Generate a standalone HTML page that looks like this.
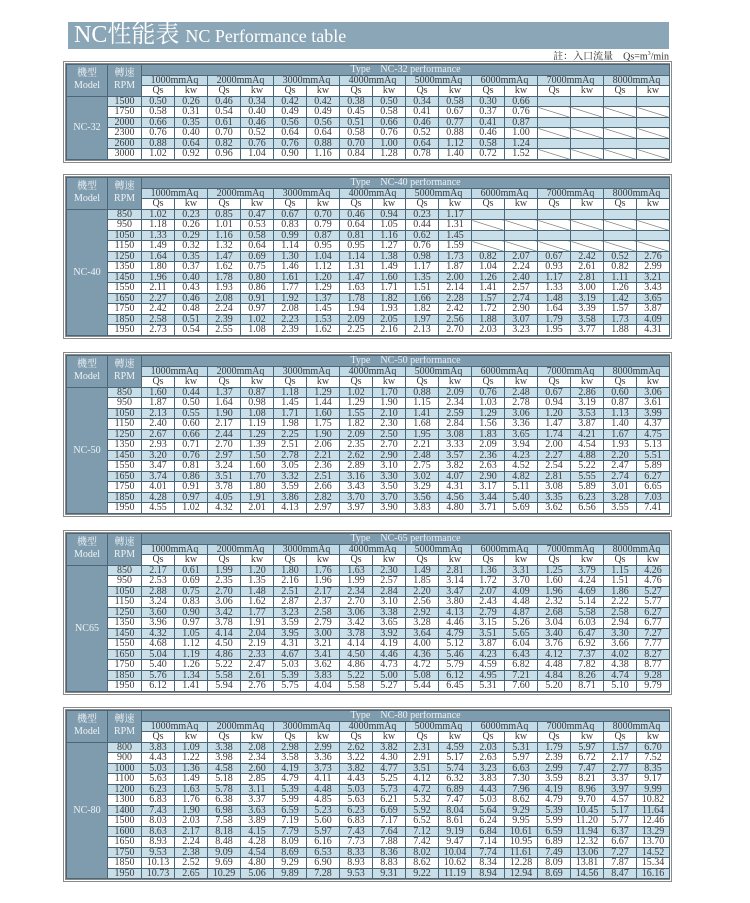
<!DOCTYPE html>
<html><head><meta charset="utf-8">
<style>
body{margin:0;background:#fff;width:750px;height:903px;position:relative;overflow:hidden;font-family:"Liberation Serif","Noto Serif CJK SC",serif}
.hdr{position:absolute;left:68px;top:22px;width:601px;height:27px;background:#8ba7b7;color:#fff;white-space:nowrap}
.hdr .a{position:absolute;left:6px;top:0px;font:24px/27px "Liberation Serif","Noto Serif CJK SC",serif}
.hdr .b{font-size:18px}
.note{position:absolute;right:81px;top:49px;font:10px/11px "Liberation Serif","Noto Serif CJK SC",serif;color:#333}
.t{position:absolute;left:63px;border:3px double #8a8a8a;width:603px}
table{border-collapse:collapse;table-layout:fixed;width:603px}
td{border:1px solid #4b6677;padding:0;font:10px/9px "Liberation Serif","Noto Serif CJK SC",serif;text-align:center;overflow:hidden;white-space:nowrap;color:#3a3a3a}
tr{height:10.5px}
.d{background:#7f9cae;color:#eef3f6}
.p td{background:#c3dbe6}
.b td{background:#c8dfe9}
.b td.d,.p td.d{background:#7f9cae}
.x{background-image:linear-gradient(to top right,transparent calc(50% - 0.6px),#666 50%,transparent calc(50% + 0.6px))}
.m{line-height:12px}
</style></head><body>
<div class="hdr"><span class="a">NC性能表 <span class="b">NC Performance table</span></span></div>
<div class="note">註：入口流量　Qs=m<sup style="font-size:6px">3</sup>/min</div>

<div class="t" style="top:61px"><table>
<colgroup><col style="width:41px"><col style="width:34px"><col span="16" style="width:33px"></colgroup>
<tr><td class="d m" rowspan="3">機型<br>Model<td class="d m" rowspan="3">轉速<br>RPM<td class="d" colspan="16">Type　NC-32 performance
<tr class="p"><td colspan="2">1000mmAq<td colspan="2">2000mmAq<td colspan="2">3000mmAq<td colspan="2">4000mmAq<td colspan="2">5000mmAq<td colspan="2">6000mmAq<td colspan="2">7000mmAq<td colspan="2">8000mmAq
<tr><td>Qs<td>kw<td>Qs<td>kw<td>Qs<td>kw<td>Qs<td>kw<td>Qs<td>kw<td>Qs<td>kw<td>Qs<td>kw<td>Qs<td>kw
<tr class="b"><td class="d" rowspan="6">NC-32<td>1500<td>0.50<td>0.26<td>0.46<td>0.34<td>0.42<td>0.42<td>0.38<td>0.50<td>0.34<td>0.58<td>0.30<td>0.66<td class="x"><td class="x"><td class="x"><td class="x">
<tr><td>1750<td>0.58<td>0.31<td>0.54<td>0.40<td>0.49<td>0.49<td>0.45<td>0.58<td>0.41<td>0.67<td>0.37<td>0.76<td class="x"><td class="x"><td class="x"><td class="x">
<tr class="b"><td>2000<td>0.66<td>0.35<td>0.61<td>0.46<td>0.56<td>0.56<td>0.51<td>0.66<td>0.46<td>0.77<td>0.41<td>0.87<td class="x"><td class="x"><td class="x"><td class="x">
<tr><td>2300<td>0.76<td>0.40<td>0.70<td>0.52<td>0.64<td>0.64<td>0.58<td>0.76<td>0.52<td>0.88<td>0.46<td>1.00<td class="x"><td class="x"><td class="x"><td class="x">
<tr class="b"><td>2600<td>0.88<td>0.64<td>0.82<td>0.76<td>0.76<td>0.88<td>0.70<td>1.00<td>0.64<td>1.12<td>0.58<td>1.24<td class="x"><td class="x"><td class="x"><td class="x">
<tr><td>3000<td>1.02<td>0.92<td>0.96<td>1.04<td>0.90<td>1.16<td>0.84<td>1.28<td>0.78<td>1.40<td>0.72<td>1.52<td class="x"><td class="x"><td class="x"><td class="x">
</table></div>

<div class="t" style="top:174px"><table>
<colgroup><col style="width:41px"><col style="width:34px"><col span="16" style="width:33px"></colgroup>
<tr><td class="d m" rowspan="3">機型<br>Model<td class="d m" rowspan="3">轉速<br>RPM<td class="d" colspan="16">Type　NC-40 performance
<tr class="p"><td colspan="2">1000mmAq<td colspan="2">2000mmAq<td colspan="2">3000mmAq<td colspan="2">4000mmAq<td colspan="2">5000mmAq<td colspan="2">6000mmAq<td colspan="2">7000mmAq<td colspan="2">8000mmAq
<tr><td>Qs<td>kw<td>Qs<td>kw<td>Qs<td>kw<td>Qs<td>kw<td>Qs<td>kw<td>Qs<td>kw<td>Qs<td>kw<td>Qs<td>kw
<tr class="b"><td class="d" rowspan="12">NC-40<td>850<td>1.02<td>0.23<td>0.85<td>0.47<td>0.67<td>0.70<td>0.46<td>0.94<td>0.23<td>1.17<td class="x"><td class="x"><td class="x"><td class="x"><td class="x"><td class="x">
<tr><td>950<td>1.18<td>0.26<td>1.01<td>0.53<td>0.83<td>0.79<td>0.64<td>1.05<td>0.44<td>1.31<td class="x"><td class="x"><td class="x"><td class="x"><td class="x"><td class="x">
<tr class="b"><td>1050<td>1.33<td>0.29<td>1.16<td>0.58<td>0.99<td>0.87<td>0.81<td>1.16<td>0.62<td>1.45<td class="x"><td class="x"><td class="x"><td class="x"><td class="x"><td class="x">
<tr><td>1150<td>1.49<td>0.32<td>1.32<td>0.64<td>1.14<td>0.95<td>0.95<td>1.27<td>0.76<td>1.59<td class="x"><td class="x"><td class="x"><td class="x"><td class="x"><td class="x">
<tr class="b"><td>1250<td>1.64<td>0.35<td>1.47<td>0.69<td>1.30<td>1.04<td>1.14<td>1.38<td>0.98<td>1.73<td>0.82<td>2.07<td>0.67<td>2.42<td>0.52<td>2.76
<tr><td>1350<td>1.80<td>0.37<td>1.62<td>0.75<td>1.46<td>1.12<td>1.31<td>1.49<td>1.17<td>1.87<td>1.04<td>2.24<td>0.93<td>2.61<td>0.82<td>2.99
<tr class="b"><td>1450<td>1.96<td>0.40<td>1.78<td>0.80<td>1.61<td>1.20<td>1.47<td>1.60<td>1.35<td>2.00<td>1.26<td>2.40<td>1.17<td>2.81<td>1.11<td>3.21
<tr><td>1550<td>2.11<td>0.43<td>1.93<td>0.86<td>1.77<td>1.29<td>1.63<td>1.71<td>1.51<td>2.14<td>1.41<td>2.57<td>1.33<td>3.00<td>1.26<td>3.43
<tr class="b"><td>1650<td>2.27<td>0.46<td>2.08<td>0.91<td>1.92<td>1.37<td>1.78<td>1.82<td>1.66<td>2.28<td>1.57<td>2.74<td>1.48<td>3.19<td>1.42<td>3.65
<tr><td>1750<td>2.42<td>0.48<td>2.24<td>0.97<td>2.08<td>1.45<td>1.94<td>1.93<td>1.82<td>2.42<td>1.72<td>2.90<td>1.64<td>3.39<td>1.57<td>3.87
<tr class="b"><td>1850<td>2.58<td>0.51<td>2.39<td>1.02<td>2.23<td>1.53<td>2.09<td>2.05<td>1.97<td>2.56<td>1.88<td>3.07<td>1.79<td>3.58<td>1.73<td>4.09
<tr><td>1950<td>2.73<td>0.54<td>2.55<td>1.08<td>2.39<td>1.62<td>2.25<td>2.16<td>2.13<td>2.70<td>2.03<td>3.23<td>1.95<td>3.77<td>1.88<td>4.31
</table></div>

<div class="t" style="top:352px"><table>
<colgroup><col style="width:41px"><col style="width:34px"><col span="16" style="width:33px"></colgroup>
<tr><td class="d m" rowspan="3">機型<br>Model<td class="d m" rowspan="3">轉速<br>RPM<td class="d" colspan="16">Type　NC-50 performance
<tr class="p"><td colspan="2">1000mmAq<td colspan="2">2000mmAq<td colspan="2">3000mmAq<td colspan="2">4000mmAq<td colspan="2">5000mmAq<td colspan="2">6000mmAq<td colspan="2">7000mmAq<td colspan="2">8000mmAq
<tr><td>Qs<td>kw<td>Qs<td>kw<td>Qs<td>kw<td>Qs<td>kw<td>Qs<td>kw<td>Qs<td>kw<td>Qs<td>kw<td>Qs<td>kw
<tr class="b"><td class="d" rowspan="12">NC-50<td>850<td>1.60<td>0.44<td>1.37<td>0.87<td>1.18<td>1.29<td>1.02<td>1.70<td>0.88<td>2.09<td>0.76<td>2.48<td>0.67<td>2.86<td>0.60<td>3.06
<tr><td>950<td>1.87<td>0.50<td>1.64<td>0.98<td>1.45<td>1.44<td>1.29<td>1.90<td>1.15<td>2.34<td>1.03<td>2.78<td>0.94<td>3.19<td>0.87<td>3.61
<tr class="b"><td>1050<td>2.13<td>0.55<td>1.90<td>1.08<td>1.71<td>1.60<td>1.55<td>2.10<td>1.41<td>2.59<td>1.29<td>3.06<td>1.20<td>3.53<td>1.13<td>3.99
<tr><td>1150<td>2.40<td>0.60<td>2.17<td>1.19<td>1.98<td>1.75<td>1.82<td>2.30<td>1.68<td>2.84<td>1.56<td>3.36<td>1.47<td>3.87<td>1.40<td>4.37
<tr class="b"><td>1250<td>2.67<td>0.66<td>2.44<td>1.29<td>2.25<td>1.90<td>2.09<td>2.50<td>1.95<td>3.08<td>1.83<td>3.65<td>1.74<td>4.21<td>1.67<td>4.75
<tr><td>1350<td>2.93<td>0.71<td>2.70<td>1.39<td>2.51<td>2.06<td>2.35<td>2.70<td>2.21<td>3.33<td>2.09<td>3.94<td>2.00<td>4.54<td>1.93<td>5.13
<tr class="b"><td>1450<td>3.20<td>0.76<td>2.97<td>1.50<td>2.78<td>2.21<td>2.62<td>2.90<td>2.48<td>3.57<td>2.36<td>4.23<td>2.27<td>4.88<td>2.20<td>5.51
<tr><td>1550<td>3.47<td>0.81<td>3.24<td>1.60<td>3.05<td>2.36<td>2.89<td>3.10<td>2.75<td>3.82<td>2.63<td>4.52<td>2.54<td>5.22<td>2.47<td>5.89
<tr class="b"><td>1650<td>3.74<td>0.86<td>3.51<td>1.70<td>3.32<td>2.51<td>3.16<td>3.30<td>3.02<td>4.07<td>2.90<td>4.82<td>2.81<td>5.55<td>2.74<td>6.27
<tr><td>1750<td>4.01<td>0.91<td>3.78<td>1.80<td>3.59<td>2.66<td>3.43<td>3.50<td>3.29<td>4.31<td>3.17<td>5.11<td>3.08<td>5.89<td>3.01<td>6.65
<tr class="b"><td>1850<td>4.28<td>0.97<td>4.05<td>1.91<td>3.86<td>2.82<td>3.70<td>3.70<td>3.56<td>4.56<td>3.44<td>5.40<td>3.35<td>6.23<td>3.28<td>7.03
<tr><td>1950<td>4.55<td>1.02<td>4.32<td>2.01<td>4.13<td>2.97<td>3.97<td>3.90<td>3.83<td>4.80<td>3.71<td>5.69<td>3.62<td>6.56<td>3.55<td>7.41
</table></div>

<div class="t" style="top:530px"><table>
<colgroup><col style="width:41px"><col style="width:34px"><col span="16" style="width:33px"></colgroup>
<tr><td class="d m" rowspan="3">機型<br>Model<td class="d m" rowspan="3">轉速<br>RPM<td class="d" colspan="16">Type　NC-65 performance
<tr class="p"><td colspan="2">1000mmAq<td colspan="2">2000mmAq<td colspan="2">3000mmAq<td colspan="2">4000mmAq<td colspan="2">5000mmAq<td colspan="2">6000mmAq<td colspan="2">7000mmAq<td colspan="2">8000mmAq
<tr><td>Qs<td>kw<td>Qs<td>kw<td>Qs<td>kw<td>Qs<td>kw<td>Qs<td>kw<td>Qs<td>kw<td>Qs<td>kw<td>Qs<td>kw
<tr class="b"><td class="d" rowspan="12">NC65<td>850<td>2.17<td>0.61<td>1.99<td>1.20<td>1.80<td>1.76<td>1.63<td>2.30<td>1.49<td>2.81<td>1.36<td>3.31<td>1.25<td>3.79<td>1.15<td>4.26
<tr><td>950<td>2.53<td>0.69<td>2.35<td>1.35<td>2.16<td>1.96<td>1.99<td>2.57<td>1.85<td>3.14<td>1.72<td>3.70<td>1.60<td>4.24<td>1.51<td>4.76
<tr class="b"><td>1050<td>2.88<td>0.75<td>2.70<td>1.48<td>2.51<td>2.17<td>2.34<td>2.84<td>2.20<td>3.47<td>2.07<td>4.09<td>1.96<td>4.69<td>1.86<td>5.27
<tr><td>1150<td>3.24<td>0.83<td>3.06<td>1.62<td>2.87<td>2.37<td>2.70<td>3.10<td>2.56<td>3.80<td>2.43<td>4.48<td>2.32<td>5.14<td>2.22<td>5.77
<tr class="b"><td>1250<td>3.60<td>0.90<td>3.42<td>1.77<td>3.23<td>2.58<td>3.06<td>3.38<td>2.92<td>4.13<td>2.79<td>4.87<td>2.68<td>5.58<td>2.58<td>6.27
<tr><td>1350<td>3.96<td>0.97<td>3.78<td>1.91<td>3.59<td>2.79<td>3.42<td>3.65<td>3.28<td>4.46<td>3.15<td>5.26<td>3.04<td>6.03<td>2.94<td>6.77
<tr class="b"><td>1450<td>4.32<td>1.05<td>4.14<td>2.04<td>3.95<td>3.00<td>3.78<td>3.92<td>3.64<td>4.79<td>3.51<td>5.65<td>3.40<td>6.47<td>3.30<td>7.27
<tr><td>1550<td>4.68<td>1.12<td>4.50<td>2.19<td>4.31<td>3.21<td>4.14<td>4.19<td>4.00<td>5.12<td>3.87<td>6.04<td>3.76<td>6.92<td>3.66<td>7.77
<tr class="b"><td>1650<td>5.04<td>1.19<td>4.86<td>2.33<td>4.67<td>3.41<td>4.50<td>4.46<td>4.36<td>5.46<td>4.23<td>6.43<td>4.12<td>7.37<td>4.02<td>8.27
<tr><td>1750<td>5.40<td>1.26<td>5.22<td>2.47<td>5.03<td>3.62<td>4.86<td>4.73<td>4.72<td>5.79<td>4.59<td>6.82<td>4.48<td>7.82<td>4.38<td>8.77
<tr class="b"><td>1850<td>5.76<td>1.34<td>5.58<td>2.61<td>5.39<td>3.83<td>5.22<td>5.00<td>5.08<td>6.12<td>4.95<td>7.21<td>4.84<td>8.26<td>4.74<td>9.28
<tr><td>1950<td>6.12<td>1.41<td>5.94<td>2.76<td>5.75<td>4.04<td>5.58<td>5.27<td>5.44<td>6.45<td>5.31<td>7.60<td>5.20<td>8.71<td>5.10<td>9.79
</table></div>

<div class="t" style="top:707px"><table>
<colgroup><col style="width:41px"><col style="width:34px"><col span="16" style="width:33px"></colgroup>
<tr><td class="d m" rowspan="3">機型<br>Model<td class="d m" rowspan="3">轉速<br>RPM<td class="d" colspan="16">Type　NC-80 performance
<tr class="p"><td colspan="2">1000mmAq<td colspan="2">2000mmAq<td colspan="2">3000mmAq<td colspan="2">4000mmAq<td colspan="2">5000mmAq<td colspan="2">6000mmAq<td colspan="2">7000mmAq<td colspan="2">8000mmAq
<tr><td>Qs<td>kw<td>Qs<td>kw<td>Qs<td>kw<td>Qs<td>kw<td>Qs<td>kw<td>Qs<td>kw<td>Qs<td>kw<td>Qs<td>kw
<tr class="b"><td class="d" rowspan="13">NC-80<td>800<td>3.83<td>1.09<td>3.38<td>2.08<td>2.98<td>2.99<td>2.62<td>3.82<td>2.31<td>4.59<td>2.03<td>5.31<td>1.79<td>5.97<td>1.57<td>6.70
<tr><td>900<td>4.43<td>1.22<td>3.98<td>2.34<td>3.58<td>3.36<td>3.22<td>4.30<td>2.91<td>5.17<td>2.63<td>5.97<td>2.39<td>6.72<td>2.17<td>7.52
<tr class="b"><td>1000<td>5.03<td>1.36<td>4.58<td>2.60<td>4.19<td>3.73<td>3.82<td>4.77<td>3.51<td>5.74<td>3.23<td>6.63<td>2.99<td>7.47<td>2.77<td>8.35
<tr><td>1100<td>5.63<td>1.49<td>5.18<td>2.85<td>4.79<td>4.11<td>4.43<td>5.25<td>4.12<td>6.32<td>3.83<td>7.30<td>3.59<td>8.21<td>3.37<td>9.17
<tr class="b"><td>1200<td>6.23<td>1.63<td>5.78<td>3.11<td>5.39<td>4.48<td>5.03<td>5.73<td>4.72<td>6.89<td>4.43<td>7.96<td>4.19<td>8.96<td>3.97<td>9.99
<tr><td>1300<td>6.83<td>1.76<td>6.38<td>3.37<td>5.99<td>4.85<td>5.63<td>6.21<td>5.32<td>7.47<td>5.03<td>8.62<td>4.79<td>9.70<td>4.57<td>10.82
<tr class="b"><td>1400<td>7.43<td>1.90<td>6.98<td>3.63<td>6.59<td>5.23<td>6.23<td>6.69<td>5.92<td>8.04<td>5.64<td>9.29<td>5.39<td>10.45<td>5.17<td>11.64
<tr><td>1500<td>8.03<td>2.03<td>7.58<td>3.89<td>7.19<td>5.60<td>6.83<td>7.17<td>6.52<td>8.61<td>6.24<td>9.95<td>5.99<td>11.20<td>5.77<td>12.46
<tr class="b"><td>1600<td>8.63<td>2.17<td>8.18<td>4.15<td>7.79<td>5.97<td>7.43<td>7.64<td>7.12<td>9.19<td>6.84<td>10.61<td>6.59<td>11.94<td>6.37<td>13.29
<tr><td>1650<td>8.93<td>2.24<td>8.48<td>4.28<td>8.09<td>6.16<td>7.73<td>7.88<td>7.42<td>9.47<td>7.14<td>10.95<td>6.89<td>12.32<td>6.67<td>13.70
<tr class="b"><td>1750<td>9.53<td>2.38<td>9.09<td>4.54<td>8.69<td>6.53<td>8.33<td>8.36<td>8.02<td>10.04<td>7.74<td>11.61<td>7.49<td>13.06<td>7.27<td>14.52
<tr><td>1850<td>10.13<td>2.52<td>9.69<td>4.80<td>9.29<td>6.90<td>8.93<td>8.83<td>8.62<td>10.62<td>8.34<td>12.28<td>8.09<td>13.81<td>7.87<td>15.34
<tr class="b"><td>1950<td>10.73<td>2.65<td>10.29<td>5.06<td>9.89<td>7.28<td>9.53<td>9.31<td>9.22<td>11.19<td>8.94<td>12.94<td>8.69<td>14.56<td>8.47<td>16.16
</table></div>
</body></html>
